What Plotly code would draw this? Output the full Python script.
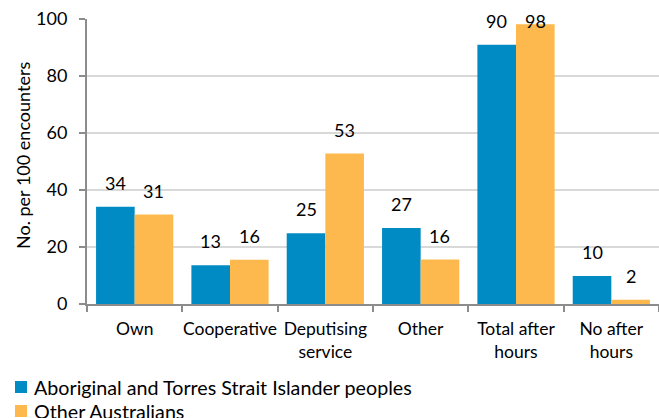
import plotly.graph_objects as go

categories = ["Own", "Cooperative", "Deputising<br>service", "Other", "Total after<br>hours", "No after<br>hours"]
# bar heights; labels as printed on the chart
aboriginal = [34.1, 13.6, 24.8, 26.7, 91.0, 9.8]
other_aus = [31.4, 15.5, 52.8, 15.6, 98.2, 1.5]
aboriginal_labels = ["34", "13", "25", "27", "90", "10"]
other_aus_labels = ["31", "16", "53", "16", "98", "2"]
series_names = ["Aboriginal and Torres Strait Islander peoples", "Other Australians"]
series_colors = ["#008BC4", "#FDB94D"]
y_ticks = [0, 20, 40, 60, 80, 100]
y_title = "No. per 100 encounters"

FONT = "Lato, Open Sans, sans-serif"
W, H = 659, 418
L, R, T, B = 87, 0, 19, 114
PW, PH = W - L - R, H - T - B
BARGAP = 0.19
YMAX = 100

fig = go.Figure()
for vals, name, col in zip([aboriginal, other_aus], series_names, series_colors):
    fig.add_trace(go.Bar(x=categories, y=vals, name=name,
                         marker=dict(color=col, line=dict(width=0)),
                         showlegend=False, hoverinfo="x+y+name"))

# data labels above bars (kept inside the plot area near the top, as in the original)
cat_px = PW / len(categories)
bar_px = cat_px * (1 - BARGAP) / 2
annotations = []
for vals, labels, sgn in [(aboriginal, aboriginal_labels, -1), (other_aus, other_aus_labels, 1)]:
    for c, v, lab in zip(categories, vals, labels):
        top_px = T + PH * (1 - v / YMAX)
        shift = min(24, top_px - 21)
        annotations.append(dict(x=c, y=v, xref="x", yref="y", text=lab, showarrow=False,
                                xshift=sgn * bar_px / 2, yshift=shift, yanchor="middle",
                                font=dict(size=18, family=FONT, color="#000000")))

# y-axis title
annotations.append(dict(x=(23 - L) / PW, y=(H - B - 156) / PH, xref="paper", yref="paper",
                        text=y_title, textangle=-90, showarrow=False,
                        xanchor="center", yanchor="middle",
                        font=dict(size=18, family=FONT, color="#000000")))

# legend
shapes = []
for i, (name, col) in enumerate(zip(series_names, series_colors)):
    cy = 387 + i * 24
    x0, x1 = 15, 27
    shapes.append(dict(type="rect", xref="paper", yref="paper",
                       x0=(x0 - L) / PW, x1=(x1 - L) / PW,
                       y0=(H - B - (cy + 6)) / PH, y1=(H - B - (cy - 6)) / PH,
                       fillcolor=col, line=dict(width=0)))
    annotations.append(dict(x=(32 - L) / PW, y=(H - B - cy) / PH, xref="paper", yref="paper",
                            text=name, showarrow=False, xanchor="left", yanchor="middle",
                            font=dict(size=19.7, family=FONT, color="#000000")))

fig.update_layout(
    width=W, height=H,
    margin=dict(l=L, r=R, t=T, b=B, autoexpand=False),
    paper_bgcolor="white", plot_bgcolor="white",
    barmode="group", bargap=BARGAP, bargroupgap=0,
    font=dict(family=FONT, size=17.5, color="#000000"),
    showlegend=False,
    annotations=annotations, shapes=shapes,
)
fig.update_xaxes(showline=True, linecolor="#8C8C8C", linewidth=2,
                 ticks="outside", tickson="boundaries", ticklen=6, tickcolor="#8C8C8C", tickwidth=2,
                 tickfont=dict(size=17.5, family=FONT), showgrid=False, tickangle=0, automargin=False,
                 ticklabelstandoff=8)
fig.update_yaxes(range=[0, YMAX], tickvals=y_ticks, showline=True, linecolor="#8C8C8C", linewidth=2,
                 ticks="outside", ticklen=6, tickcolor="#8C8C8C", tickwidth=2,
                 showgrid=True, gridcolor="#D9D9D9", gridwidth=2, zeroline=False,
                 tickfont=dict(size=18, family=FONT), automargin=False, ticklabelstandoff=8)

fig.write_html("out.html", post_script="document.body.style.margin='0';",
               config={"displayModeBar": False})
